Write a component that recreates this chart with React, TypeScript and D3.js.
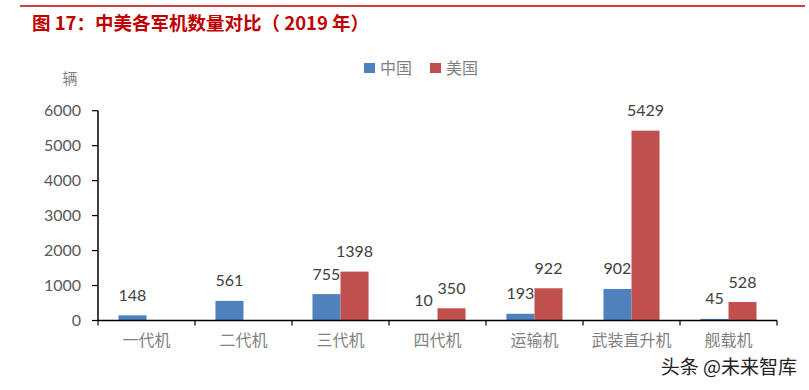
import * as d3 from "d3";

const categories = ["一代机", "二代机", "三代机", "四代机", "运输机", "武装直升机", "舰载机"];
const chinaValues: (number | null)[] = [148, 561, 755, 10, 193, 902, 45];
const usaValues: (number | null)[] = [null, null, 1398, 350, 922, 5429, 528];
const seriesNames = ["中国", "美国"];
const yTicks = [0, 1000, 2000, 3000, 4000, 5000, 6000];

const W = 809;
const H = 390;
const colors = ["#4f81bd", "#c0504d"];
const cjk = "'Noto Sans CJK SC', 'Noto Sans', sans-serif";
const num = "Lato, 'Noto Sans', sans-serif";

const App = () => {
  const left = 98;
  const right = 777;
  const top = 110.7;
  const bottom = 320.5;

  const x = d3.scaleBand<string>().domain(categories).range([left, right]).paddingInner(0).paddingOuter(0);
  // two bars ~28px wide, centred in each category band
  const inner = d3
    .scaleBand<string>()
    .domain(seriesNames)
    .range([0, x.bandwidth()])
    .paddingOuter(0.73)
    .paddingInner(0);
  const y = d3.scaleLinear().domain([0, 6000]).range([bottom, top]);

  const series = [chinaValues, usaValues];

  // category boundaries for x ticks
  const boundaries = categories.map((c) => x(c) as number).concat([right]);

  return (
    <svg width={W} height={H} style={{ position: "absolute", left: 0, top: 0, background: "#fff" }}>
      {/* header rule and title */}
      <line x1={20} x2={805} y1={6} y2={6} stroke="#c00000" strokeWidth={1.5} />
      <text x={32} y={30} fill="#c00000" fontFamily={cjk} fontWeight="bold" fontSize={18.5}>
        图 17：中美各军机数量对比（ 2019 年）
      </text>

      {/* unit */}
      <text x={70} y={84} fill="#7f7f7f" fontFamily={cjk} fontSize={15} textAnchor="middle">
        辆
      </text>

      {/* legend */}
      {seriesNames.map((name, i) => {
        const lx = 364 + i * 66;
        return (
          <g key={name}>
            <rect x={lx} y={63} width={11} height={10} fill={colors[i]} />
            <text x={lx + 16} y={74} fill="#7f7f7f" fontFamily={cjk} fontSize={16}>
              {name}
            </text>
          </g>
        );
      })}

      {/* bars */}
      {series.map((vals, si) =>
        vals.map((v, ci) => {
          if (v == null) return null;
          const bx = (x(categories[ci]) as number) + (inner(seriesNames[si]) as number);
          const bw = inner.bandwidth();
          return (
            <g key={`${si}-${ci}`}>
              <rect x={bx} y={y(v)} width={bw} height={bottom - y(v)} fill={colors[si]} />
              <text
                x={bx + bw / 2}
                y={y(v) - 14.5}
                textAnchor="middle"
                fill="#404040"
                fontFamily={num}
                fontSize={16}
              >
                {v}
              </text>
            </g>
          );
        })
      )}

      {/* y axis */}
      <line x1={left} x2={left} y1={top} y2={bottom} stroke="#000" strokeWidth={1.5} />
      {yTicks.map((t) => (
        <g key={t}>
          <line x1={left - 6} x2={left} y1={y(t)} y2={y(t)} stroke="#000" strokeWidth={1.2} />
          <text x={81} y={y(t) + 5.5} textAnchor="end" fill="#595959" fontFamily={num} fontSize={16}>
            {t}
          </text>
        </g>
      ))}

      {/* x axis */}
      <line x1={left} x2={right} y1={bottom} y2={bottom} stroke="#000" strokeWidth={1.5} />
      {boundaries.map((b, i) => (
        <line key={i} x1={b} x2={b} y1={bottom} y2={bottom + 5} stroke="#000" strokeWidth={1.2} />
      ))}
      {categories.map((c) => (
        <text
          key={c}
          x={(x(c) as number) + x.bandwidth() / 2}
          y={346}
          textAnchor="middle"
          fill="#808080"
          fontFamily={cjk}
          fontSize={16}
        >
          {c}
        </text>
      ))}

      {/* watermark */}
      <text
        x={797}
        y={374}
        textAnchor="end"
        fill="#222"
        stroke="#fff"
        strokeWidth={2}
        paintOrder="stroke"
        fontFamily={cjk}
        fontSize={19}
      >
        头条 @未来智库
      </text>
    </svg>
  );
};

export default App;
